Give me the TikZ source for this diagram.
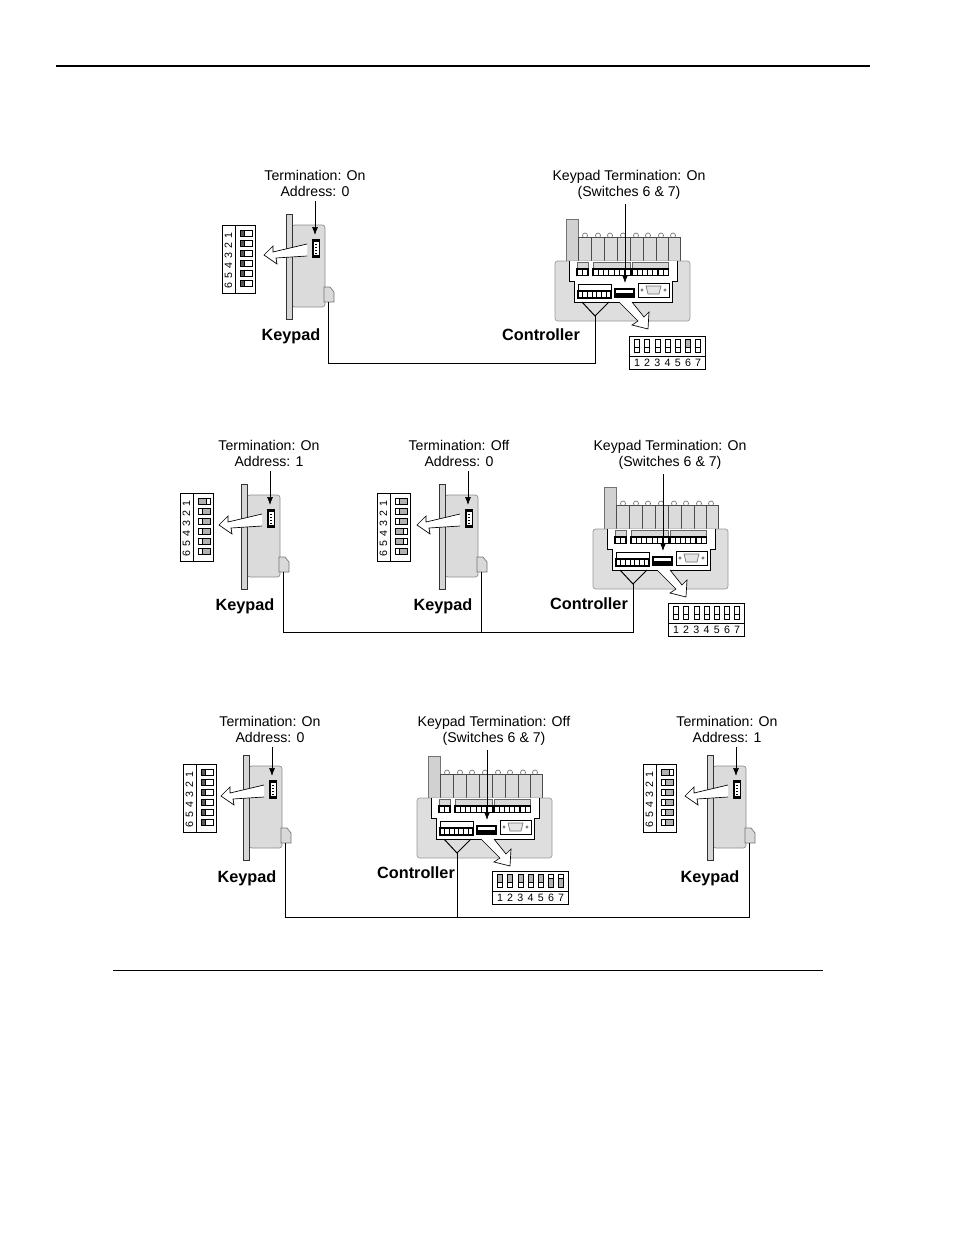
\documentclass[tikz,border=0pt]{standalone}
\usepackage{fontspec}
\setmainfont{Liberation Sans}
\usepackage{tikz}
\usetikzlibrary{arrows.meta}

% row of terminal slots: x, y, count, slot width, height
\newcommand{\slotrow}[5]{
	\foreach \i in {1,...,#3} {
		\draw[black,line width=0.8pt,fill=white] ({#1+(\i-1)*#4},#2) rectangle ++(#4,#5);
	}
}

\tikzset{
	thinline/.style={line width=0.5pt,draw=black},
	greyline/.style={line width=0.5pt,draw=black!55},
	cable/.style={line width=0.75pt,draw=black},
	pointer/.style={line width=0.5pt,draw=black,-{Latex[length=6pt,width=4.5pt]}},
	infotext/.style={font=\fontsize{10.6}{12}\selectfont,align=center},
	unittext/.style={font=\fontsize{12.2}{14}\bfseries\selectfont},
	digittext/.style={font=\fontsize{8}{9}\selectfont,inner sep=0pt},
	% keypad seen from the side, origin at top left of the plate
	keypad/.pic={
		\fill[black!14,draw=black!45,line width=0.5pt,rounded corners=2pt] (6,11) rectangle (39,93);
		\draw[fill=black!16,line width=0.6pt,draw=black!80] (0,0) rectangle (6,105);
		\draw[fill=black!15,greyline] (38,88) -- (38,73) -- (44,73) -- (48,78) -- (48,88) -- cycle;
		\fill[black] (26,25) rectangle (34,44);
		\fill[white] (28,28) rectangle (33,41);
		\foreach \j in {30,33,36,39} {\fill[black] (29,\j) rectangle (31,\j+1.4);}
		\fill[white] (21,30) -- (-13,38) -- (-13,32) -- (-22,41) -- (-9,50) -- (-10,44) -- (21,42) -- cycle;
		\draw[thinline] (21,30) -- (-13,38) -- (-13,32) -- (-22,41) -- (-9,50) -- (-10,44) -- (21,42);
		\coordinate (-sw) at (29,21);
		\coordinate (-port) at (42,88);
	},
	% switch block of the keypad, one value for each switch
	keydip/.pic={
		\draw[line width=0.75pt,fill=white] (0,0) rectangle (33,68);
		\draw[line width=0.75pt] (13,0) -- (13,68);
		\foreach \s [count=\n] in {#1} {
			\node[digittext,rotate=90] (d\n) at (6.5,{1+\n*10}) {\n};
			\ifnum\s=0
				\draw[line width=0.6pt,fill=black!65] (18,{\n*10-5}) rectangle (22,{\n*10+1});
				\draw[line width=0.6pt,fill=white] (22,{\n*10-5}) rectangle (30,{\n*10+1});
			\fi
			\ifnum\s=1
				\draw[line width=0.6pt,fill=black!30] (18,{\n*10-5}) rectangle (26,{\n*10+1});
				\draw[line width=0.6pt,fill=white] (26,{\n*10-5}) rectangle (30,{\n*10+1});
			\fi
			\ifnum\s=2
				\draw[line width=0.6pt,fill=white] (18,{\n*10-5}) rectangle (22,{\n*10+1});
				\draw[line width=0.6pt,fill=black!30] (22,{\n*10-5}) rectangle (30,{\n*10+1});
			\fi
		}
	},
	% switch block of the controller
	ctldip/.pic={
		\draw[line width=0.75pt,fill=white] (0,0) rectangle (76,33);
		\draw[line width=0.75pt] (0,20) -- (76,20);
		\foreach \s [count=\n] in {#1} {
			\node[digittext] (d\n) at ({8+(\n-1)*10.2},27) {\n};
			\ifnum\s=0
				\draw[line width=0.6pt,fill=white] ({5.5+(\n-1)*10.2},3) rectangle ({10.5+(\n-1)*10.2},11.5);
				\draw[line width=0.6pt,fill=white] ({5.5+(\n-1)*10.2},11.5) rectangle ({10.5+(\n-1)*10.2},16);
			\fi
			\ifnum\s=1
				\draw[line width=0.6pt,fill=black!30] ({5.5+(\n-1)*10.2},3) rectangle ({10.5+(\n-1)*10.2},11.5);
				\draw[line width=0.6pt,fill=white] ({5.5+(\n-1)*10.2},11.5) rectangle ({10.5+(\n-1)*10.2},16);
			\fi
			\ifnum\s=2
				\draw[line width=0.6pt,fill=white] ({5.5+(\n-1)*10.2},3) rectangle ({10.5+(\n-1)*10.2},7.5);
				\draw[line width=0.6pt,fill=black!30] ({5.5+(\n-1)*10.2},7.5) rectangle ({10.5+(\n-1)*10.2},16);
			\fi
		}
	},
	% controller seen from the front, origin at top left of the body
	controller/.pic={
		\draw[fill=black!18,greyline] (11,0) -- (11,-42) -- (23,-42) -- (23,0);
		\foreach \x in {30,43,55,68,81,93,106,118} {
			\draw[greyline,fill=white] (\x,-25.5) circle (2.5);
		}
		\draw[fill=black!14,draw=black!70,line width=0.5pt] (23,-24) rectangle (125,0);
		\foreach \x in {36,49,62,75,88,101,113} {
			\draw[draw=black!70,line width=0.5pt] (\x,-24) -- (\x,0);
		}
		\draw[fill=black!13,draw=black!40,line width=0.5pt,rounded corners=2pt] (0,0) rectangle (135,60);
		\draw[thinline,line width=0.7pt,fill=white] (14,0) -- (14,20) -- (19,20) -- (19,41) -- (117,41) -- (117,20) -- (122,20) -- (122,0);
		% terminal blocks
		\draw[fill=black!15,draw=black!60,line width=0.4pt] (22,1) rectangle (33,8);
		\slotrow{22}{8}{2}{5.5}{6.5}
		\draw[fill=black!15,draw=black!60,line width=0.4pt] (38,1) rectangle (75,8);
		\slotrow{38}{8}{7}{5.3}{6.5}
		\draw[fill=black!15,draw=black!60,line width=0.4pt] (77,1) rectangle (113,8);
		\slotrow{77}{8}{7}{5.2}{6.5}
		\draw[line width=0.6pt,fill=white] (23,23) rectangle (56,37);
		\slotrow{23}{30}{7}{4.7}{7}
		% small switch
		\fill[black] (59,27) rectangle (80,37);
		\fill[white] (61,29) rectangle (78,32);
		% serial port
		\draw[line width=0.6pt,fill=white] (83,22) rectangle (114,36);
		\draw[greyline,fill=black!10] (91,25) -- (106,25) -- (104,33) -- (93,33) -- cycle;
		\draw[greyline] (87,29) circle (1.2) (110,29) circle (1.2);
		% fork down to the cable
		\draw[cable] (27,41) -- (40,55) -- (54,41);
		\coordinate (-fork) at (40,55);
		\fill[white] (64,41) -- (77,41) -- (89,56) -- (94,51) -- (93,68) -- (77,64) -- (83,60) -- cycle;
		\draw[thinline] (64,41) -- (83,60) -- (77,64) -- (93,68) -- (94,51) -- (89,56) -- (77,41);
		\coordinate (-sw) at (70,22);
	}
}

\begin{document}
\begin{tikzpicture}[x=0.75pt,y=-0.75pt,>=Latex]
	
	\useasboundingbox (0,0) rectangle (954,1235);
	
	\coordinate (ruletopl) at (56,66);
	\coordinate (ruletopr) at (870,66);
	\coordinate (rulebotl) at (113,970);
	\coordinate (rulebotr) at (823,970);
	\draw[line width=2.2pt] (ruletopl) -- (ruletopr);
	\draw[line width=0.75pt] (rulebotl) -- (rulebotr);
	
	%--------------------------------------------------
	% First Row
	%--------------------------------------------------
	
	\pic (kpa) at (286,214) {keypad};
	\pic (dipa) at (222,225) {keydip={0,0,0,0,0,0}};
	\pic (cta) at (555,261) {controller};
	\pic (dipb) at (629,336) {ctldip={0,0,0,0,0,1,0}};
	
	\node[infotext] (terma) at (315,183) {Termination: On\\Address: 0};
	\node[infotext] (termb) at (629,185) {Keypad Termination: On\\(Switches 6 \& 7)};
	\node[unittext] (namea) at (291,336.5) {Keypad};
	\node[unittext] (nameb) at (541,335) {Controller};
	
	\draw[pointer] (terma.south -| kpa-sw) -- (kpa-sw);
	\draw[pointer] (termb.south -| cta-sw) -- (cta-sw);
	\draw[cable] (kpa-port) -- (kpa-port |- 0,363) -- (cta-fork |- 0,363) -- (cta-fork);
	
	%--------------------------------------------------
	% Second Row
	%--------------------------------------------------
	
	\pic (kpb) at (241,484) {keypad};
	\pic (dipc) at (180,493) {keydip={1,2,2,2,2,2}};
	\pic (kpc) at (439,484) {keypad};
	\pic (dipd) at (377,493) {keydip={2,2,2,1,1,2}};
	\pic (ctb) at (593,529) {controller};
	\pic (dipe) at (668,603) {ctldip={0,0,0,0,0,0,0}};
	
	\node[infotext] (termc) at (269,453) {Termination: On\\Address: 1};
	\node[infotext] (termd) at (459,453) {Termination: Off\\Address: 0};
	\node[infotext] (terme) at (670,455) {Keypad Termination: On\\(Switches 6 \& 7)};
	\node[unittext] (namec) at (245,606.5) {Keypad};
	\node[unittext] (named) at (443,606.5) {Keypad};
	\node[unittext] (namee) at (589,604) {Controller};
	
	\draw[pointer] (termc.south -| kpb-sw) -- (kpb-sw);
	\draw[pointer] (termd.south -| kpc-sw) -- (kpc-sw);
	\draw[pointer] (terme.south -| ctb-sw) -- (ctb-sw);
	\draw[cable] (kpb-port) -- (kpb-port |- 0,632) -- (ctb-fork |- 0,632) -- (ctb-fork);
	\draw[cable] (kpc-port) -- (kpc-port |- 0,632);
	
	%--------------------------------------------------
	% Third Row
	%--------------------------------------------------
	
	\pic (kpd) at (243,755) {keypad};
	\pic (dipf) at (183,764) {keydip={0,0,0,0,0,0}};
	\pic (ctc) at (417,798) {controller};
	\pic (dipg) at (492,871) {ctldip={1,1,1,1,1,2,2}};
	\pic (kpe) at (707,755) {keypad};
	\pic (diph) at (643,764) {keydip={1,2,2,2,2,2}};
	
	\node[infotext] (termf) at (270,729) {Termination: On\\Address: 0};
	\node[infotext] (termg) at (494,731) {Keypad Termination: Off\\(Switches 6 \& 7)};
	\node[infotext] (termh) at (727,729) {Termination: On\\Address: 1};
	\node[unittext] (namef) at (247,878.5) {Keypad};
	\node[unittext] (nameg) at (416,873) {Controller};
	\node[unittext] (nameh) at (710,878.5) {Keypad};
	
	\draw[pointer] (termf.south -| kpd-sw) -- (kpd-sw);
	\draw[pointer] (termg.south -| ctc-sw) -- (ctc-sw);
	\draw[pointer] (termh.south -| kpe-sw) -- (kpe-sw);
	\draw[cable] (kpd-port) -- (kpd-port |- 0,917) -- (kpe-port |- 0,917) -- (kpe-port);
	\draw[cable] (ctc-fork) -- (ctc-fork |- 0,917);
	
\end{tikzpicture}
\end{document}
